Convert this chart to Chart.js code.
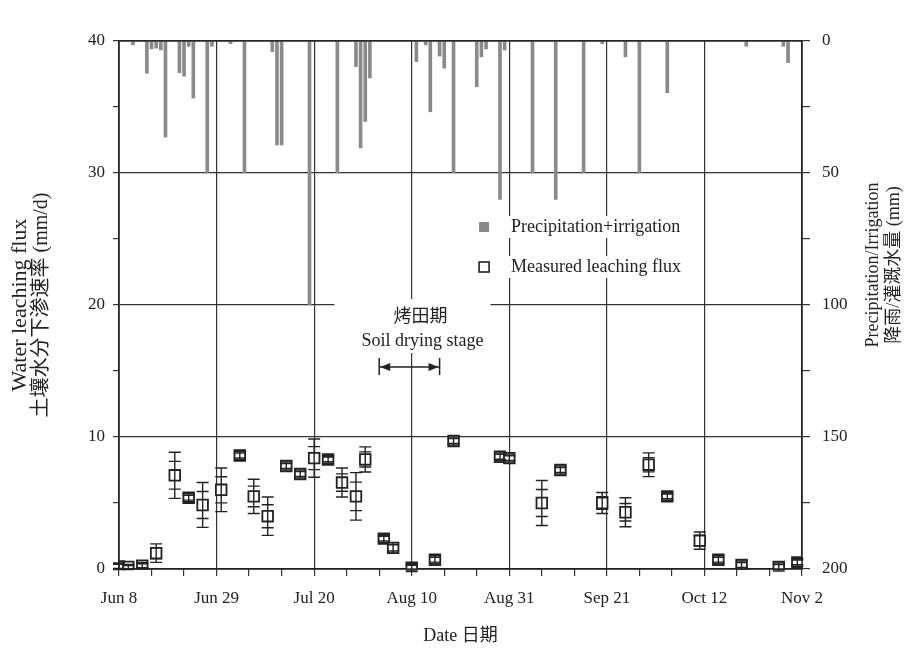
<!DOCTYPE html>
<html>
<head>
<meta charset="utf-8">
<script src="https://cdn.jsdelivr.net/npm/chart.js@4"></script>
<style>
html,body{margin:0;padding:0;background:#fff;}
#wrap{width:909px;height:659px;position:relative;}
</style>
</head>
<body>
<div id="wrap"><canvas id="c" width="909" height="659"></canvas></div>
<script>
// Date tick labels (every 21 days starting Jun 8)
const dateLabels = ['Jun 8','Jun 29','Jul 20','Aug 10','Aug 31','Sep 21','Oct 12','Nov 2'];
// Precipitation + irrigation (days after Jun 8, mm)
const rainDays = [3,6,7,8,9,10,13,14,15,16,19,20,24,27,33,34,35,41,47,51,52,53,54,64,66,67,69,70,72,77,78,79,82,83,89,94,100,104,109,112,118,135,143,144];
const rainMm   = [1.5,12.2,3,2.7,3.4,36.4,12,13.3,2,21.6,50,2,1,50,4,39.4,39.4,100,50,9.7,40.5,30.5,14,7.8,1.5,26.8,5.7,10.3,50,17.3,6,3,60,3.4,50,60,50,1,6,50,19.6,2,2,8.2];
// Measured leaching flux (days after Jun 8, mm/d, error)
const fluxDays = [0,2,5,8,12,15,18,22,26,29,32,36,39,42,45,48,51,53,57,59,63,68,72,82,84,91,95,104,109,114,118,125,129,134,142,146];
const fluxVal  = [0.2,0.15,0.25,1.2,7.1,5.4,4.85,6.0,8.6,5.5,4.0,7.8,7.2,8.4,8.3,6.55,5.5,8.3,2.3,1.6,0.1,0.7,9.7,8.5,8.4,5.0,7.5,5.0,4.3,7.9,5.5,2.15,0.7,0.3,0.15,0.5];
const fluxErr  = [0.25,0.2,0.25,0.7,1.75,0.3,1.7,1.65,0.3,1.3,1.45,0.3,0.3,1.45,0.3,1.1,1.8,0.95,0.3,0.4,0.3,0.3,0.3,0.3,0.3,1.7,0.3,0.8,1.1,0.9,0.3,0.65,0.3,0.3,0.3,0.3];
// Soil drying stage (days after Jun 8) and arrow level (mm/d)
const dryStart = 56, dryEnd = 69, dryLevel = 15.3;

const SERIF = '"Liberation Serif", "Noto Sans CJK SC", serif';
const INK = '#222';

const rainData = rainDays.map((d,i)=>({x:d, y:rainMm[i]}));
const fluxData = fluxDays.map((d,i)=>({x:d, y:fluxVal[i], e:fluxErr[i]}));

const decor = {
  id:'decor',
  afterDatasetsDraw(chart){
    const ctx = chart.ctx, xs = chart.scales.x, ys = chart.scales.y;
    // error bars
    ctx.save();
    ctx.strokeStyle = INK; ctx.lineWidth = 1.4;
    fluxData.forEach(p=>{
      const x = xs.getPixelForValue(p.x);
      const yt = ys.getPixelForValue(p.y + p.e), yb = ys.getPixelForValue(p.y - p.e);
      const it = ys.getPixelForValue(p.y + p.e*0.6), ib = ys.getPixelForValue(p.y - p.e*0.6);
      ctx.beginPath();
      ctx.moveTo(x, yt); ctx.lineTo(x, yb);
      [yt,yb,it,ib].forEach(yy=>{ctx.moveTo(x-6,yy);ctx.lineTo(x+6,yy);});
      ctx.stroke();
    });
    ctx.restore();
  },
  afterDraw(chart){
    const ctx = chart.ctx, a = chart.chartArea, xs = chart.scales.x, ys = chart.scales.y;
    ctx.save();
    // frame
    ctx.strokeStyle = INK; ctx.lineWidth = 1.3;
    ctx.strokeRect(a.left, a.top, a.right - a.left, a.bottom - a.top);

    // legend
    const lx = xs.getPixelForValue(77.5), ly1 = 227, ly2 = 267;
    ctx.font = '18px ' + SERIF;
    ctx.textBaseline = 'middle'; ctx.textAlign = 'left';
    const t1 = 'Precipitation+irrigation', t2 = 'Measured leaching flux';
    ctx.fillStyle = '#fff';
    ctx.fillRect(lx - 8, ly1 - 11, ctx.measureText(t1).width + 40, 22);
    ctx.fillRect(lx - 8, ly2 - 11, ctx.measureText(t2).width + 40, 22);
    ctx.fillStyle = '#8a8a8a';
    ctx.fillRect(lx, ly1 - 5, 10, 10);
    ctx.strokeStyle = INK; ctx.lineWidth = 1.6;
    ctx.strokeRect(lx, ly2 - 5, 10, 10);
    ctx.fillStyle = INK;
    ctx.fillText(t1, lx + 32, ly1);
    ctx.fillText(t2, lx + 32, ly2);

    // soil drying annotation
    const x1 = xs.getPixelForValue(dryStart), x2 = xs.getPixelForValue(dryEnd);
    const ya = ys.getPixelForValue(dryLevel);
    const cx = (x1 + x2) / 2 + 13;
    ctx.fillStyle = '#fff';
    ctx.fillRect(cx - 88, ya - 68, 156, 54);
    ctx.fillStyle = INK; ctx.textAlign = 'center';
    ctx.font = '18px ' + SERIF;
    ctx.fillText('烤田期', cx - 2, ya - 50);
    ctx.fillText('Soil drying stage', cx, ya - 26);
    ctx.strokeStyle = INK; ctx.lineWidth = 1.5;
    ctx.beginPath();
    ctx.moveTo(x1, ya - 9); ctx.lineTo(x1, ya + 8);
    ctx.moveTo(x2, ya - 9); ctx.lineTo(x2, ya + 8);
    ctx.moveTo(x1, ya); ctx.lineTo(x2, ya);
    ctx.stroke();
    ctx.beginPath();
    ctx.moveTo(x1 + 1, ya); ctx.lineTo(x1 + 11, ya - 4); ctx.lineTo(x1 + 11, ya + 4); ctx.closePath();
    ctx.moveTo(x2 - 1, ya); ctx.lineTo(x2 - 11, ya - 4); ctx.lineTo(x2 - 11, ya + 4); ctx.closePath();
    ctx.fillStyle = INK; ctx.fill();

    // axis titles
    ctx.fillStyle = INK; ctx.textAlign = 'center'; ctx.textBaseline = 'middle';
    const cy = (a.top + a.bottom) / 2;
    ctx.save(); ctx.translate(20, cy); ctx.rotate(-Math.PI/2);
    ctx.font = '22px ' + SERIF; ctx.fillText('Water leaching flux', 0, 0);
    ctx.restore();
    ctx.save(); ctx.translate(42, cy); ctx.rotate(-Math.PI/2);
    ctx.font = '20px ' + SERIF; ctx.fillText('土壤水分下渗速率 (mm/d)', 0, 0);
    ctx.restore();
    ctx.save(); ctx.translate(873, cy - 40); ctx.rotate(-Math.PI/2);
    ctx.font = '18px ' + SERIF; ctx.fillText('Precipitation/Irrigation', 0, 0);
    ctx.restore();
    ctx.save(); ctx.translate(894, cy - 40); ctx.rotate(-Math.PI/2);
    ctx.font = '18px ' + SERIF; ctx.fillText('降雨/灌溉水量 (mm)', 0, 0);
    ctx.restore();
    ctx.font = '18px ' + SERIF;
    ctx.fillText('Date 日期', (a.left + a.right) / 2, 636);
    ctx.restore();
  }
};

const tickFont = {family: SERIF, size: 17};

new Chart(document.getElementById('c'), {
  type: 'scatter',
  data: {
    datasets: [
      {
        type: 'bar', label: 'Precipitation+irrigation', data: rainData,
        xAxisID: 'x', yAxisID: 'y2',
        backgroundColor: '#8a8a8a', borderColor: '#777', borderWidth: 0,
        barThickness: 3, order: 2
      },
      {
        type: 'scatter', label: 'Measured leaching flux', data: fluxData,
        xAxisID: 'x', yAxisID: 'y',
        pointStyle: 'rect', pointRadius: 7.5, pointHoverRadius: 7.5,
        backgroundColor: '#fff', borderColor: INK, borderWidth: 1.8, order: 1
      }
    ]
  },
  options: {
    responsive: false, animation: false,
    layout: {padding: {top: 41, left: 0, right: 0, bottom: 0}},
    plugins: {legend: {display: false}, tooltip: {enabled: false}},
    scales: {
      x: {
        type: 'linear', position: 'bottom', min: 0, max: 147, offset: false,
        afterFit: s => { s.height = 90; },
        ticks: {
          stepSize: 7, autoSkip: false, maxRotation: 0, color: INK, font: tickFont, padding: 12,
          callback: v => (v % 21 === 0 ? dateLabels[v / 21] : '')
        },
        grid: {
          offset: false,
          color: c => (c.tick && c.tick.value % 21 === 0 ? '#333' : 'rgba(0,0,0,0)'),
          tickColor: '#333', tickLength: 7, lineWidth: 1.2
        },
        border: {display: true, color: INK, width: 1.3}
      },
      y: {
        type: 'linear', position: 'left', min: 0, max: 40,
        afterFit: s => { s.width = 119; },
        ticks: {stepSize: 5, color: INK, font: tickFont, padding: 8,
          callback: v => (v % 10 === 0 ? v : '')},
        grid: {
          offset: false,
          color: c => (c.tick && c.tick.value % 10 === 0 ? '#333' : 'rgba(0,0,0,0)'),
          tickColor: '#333', tickLength: 6, lineWidth: 1.2
        },
        border: {display: true, color: INK, width: 1.3}
      },
      y2: {
        type: 'linear', position: 'right', min: 0, max: 200, reverse: true,
        afterFit: s => { s.width = 107; },
        ticks: {stepSize: 25, color: INK, font: tickFont, padding: 12,
          callback: v => (v % 50 === 0 ? v : '')},
        grid: {offset: false, drawOnChartArea: false, tickColor: '#333', tickLength: 8, lineWidth: 1.2},
        border: {display: true, color: INK, width: 1.3}
      }
    }
  },
  plugins: [decor]
});
</script>
</body>
</html>
